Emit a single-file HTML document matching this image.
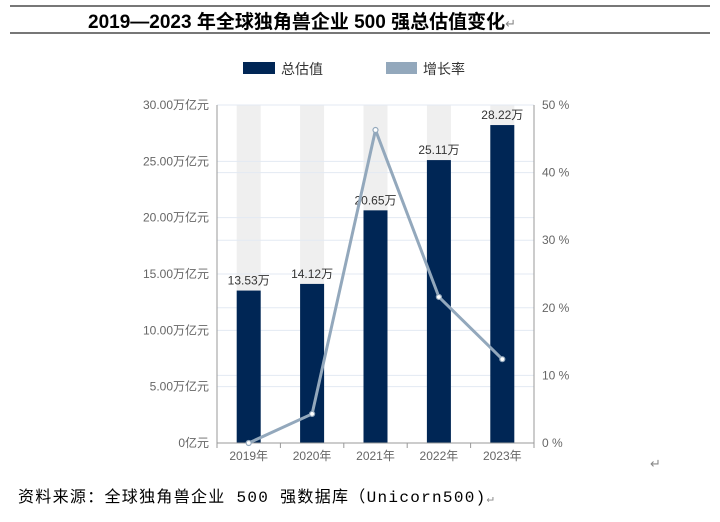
<!DOCTYPE html>
<html><head><meta charset="utf-8"><style>
body{margin:0;width:720px;height:522px;background:#fff;position:relative;overflow:hidden;font-family:"Liberation Sans","Noto Sans CJK SC",sans-serif}
.abs{position:absolute}
</style></head><body>
<div class="abs" style="left:10px;top:5px;width:700px;height:2px;background:#777"></div>
<div class="abs" style="left:88px;top:7px;font-size:19px;font-weight:bold;color:#000;white-space:nowrap">2019—2023 年全球独角兽企业 500 强总估值变化<span style="font-weight:normal;color:#888;font-size:13px">↵</span></div>
<div class="abs" style="left:10px;top:32px;width:700px;height:2px;background:#777"></div>
<div class="abs" style="left:243px;top:62px;width:32px;height:12px;background:#002655"></div>
<div class="abs" style="left:281px;top:59px;font-size:14px;color:#333">总估值</div>
<div class="abs" style="left:386px;top:62px;width:31px;height:12px;background:#93a8bc"></div>
<div class="abs" style="left:423px;top:59px;font-size:14px;color:#333">增长率</div>
<svg class="abs" style="left:0;top:0" width="720" height="522" id="chart"></svg>
<div class="abs" style="left:650px;top:456px;font-size:13px;color:#888">↵</div>
<div class="abs" style="left:18px;top:483px;font-size:16px;letter-spacing:1.3px;color:#000;white-space:nowrap;font-family:'Liberation Mono','Noto Sans CJK SC',monospace">资料来源：全球独角兽企业 500 强数据库（Unicorn500)<span style="color:#888;font-size:12px">↵</span></div>
<script>
const categories=["2019年","2020年","2021年","2022年","2023年"];
const totals=[13.53,14.12,20.65,25.11,28.22];
const totalLabels=["13.53万","14.12万","20.65万","25.11万","28.22万"];
const growth=[0,4.3,46.3,21.6,12.4];
const leftTicks=[0,5,10,15,20,25,30];
const leftTickLabels=["0亿元","5.00万亿元","10.00万亿元","15.00万亿元","20.00万亿元","25.00万亿元","30.00万亿元"];
const rightTicks=[0,10,20,30,40,50];
const rightTickLabels=["0 %","10 %","20 %","30 %","40 %","50 %"];
const L=217,R=534,T=105,B=443;
const yL=v=>B-(v/30)*(B-T);
const yR=v=>B-(v/50)*(B-T);
const bw=(R-L)/categories.length;
const xC=i=>L+bw*(i+0.5);
const svg=document.getElementById('chart');
const NS='http://www.w3.org/2000/svg';
function mk(t,a){const e=document.createElementNS(NS,t);for(const k in a)e.setAttribute(k,a[k]);svg.appendChild(e);return e;}
categories.forEach((c,i)=>{const e=mk('rect',{x:xC(i)-12,y:T,width:24,height:B-T,fill:'#efefef'});

});
leftTicks.forEach((v,i)=>{const g=mk('line',{x1:L,x2:R,y1:yL(v),y2:yL(v),stroke:'#e3eaf3','stroke-width':1});


const t=mk('text',{x:L-8,y:yL(v)+4,'text-anchor':'end','font-size':12,fill:'#666'});t.textContent=leftTickLabels[i];

});
rightTicks.forEach((v,i)=>{const g=mk('line',{x1:L,x2:R,y1:yR(v),y2:yR(v),stroke:'#e3eaf3','stroke-width':1});


const t=mk('text',{x:R+8,y:yR(v)+4,'font-size':12,fill:'#666'});t.textContent=rightTickLabels[i];

});
totals.forEach((v,i)=>{const r=mk('rect',{x:xC(i)-12,y:yL(v),width:24,height:B-yL(v),fill:'#002655'});


const t=mk('text',{x:xC(i),y:yL(v)-6,'text-anchor':'middle','font-size':12,fill:'#333'});t.textContent=totalLabels[i];


const c=mk('text',{x:xC(i),y:B+17,'text-anchor':'middle','font-size':12,fill:'#666'});c.textContent=categories[i];


const tk=mk('line',{x1:L+bw*i,x2:L+bw*i,y1:B,y2:B+5,stroke:'#999'});

});
const ax=mk('path',{d:`M${L},${T}V${B}H${R}V${T}M${R},${B}v5`,stroke:'#999',fill:'none','stroke-width':1});


const ln=mk('polyline',{points:growth.map((v,i)=>xC(i)+','+yR(v)).join(' '),fill:'none',stroke:'#93a8bc','stroke-width':3,'stroke-linejoin':'round'});


growth.forEach((v,i)=>{const p=mk('circle',{cx:xC(i),cy:yR(v),r:2.5,fill:'#fff',stroke:'#93a8bc','stroke-width':1.2});

});
</script>
</body></html>
